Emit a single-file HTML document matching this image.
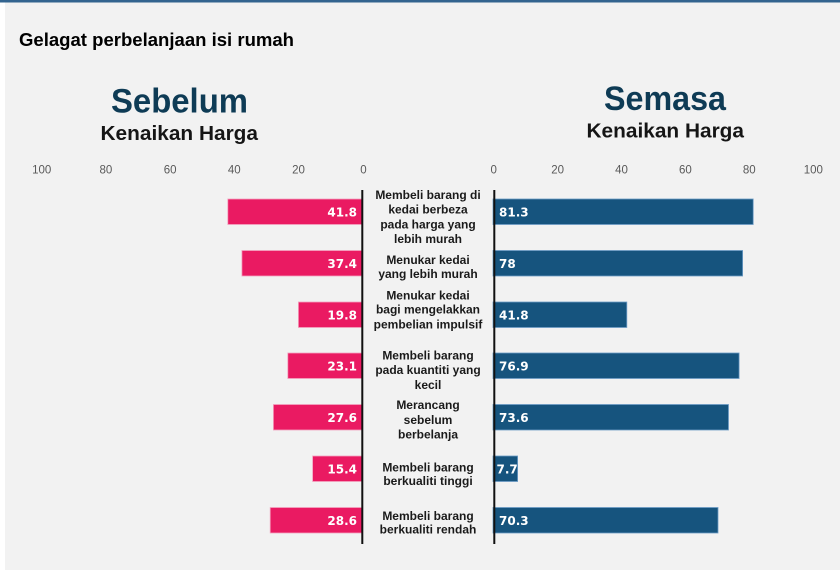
<!DOCTYPE html>
<html>
<head>
<meta charset="utf-8">
<style>
  html,body{margin:0;padding:0;background:#f2f2f2;}
  body{width:840px;height:570px;overflow:hidden;position:relative;}
  svg{display:block;}
</style>
</head>
<body>
<svg width="840" height="570" viewBox="0 0 840 570" xmlns="http://www.w3.org/2000/svg">
  <rect x="0" y="0" width="840" height="570" fill="#f2f2f2"/>
  <rect x="0" y="0" width="5" height="570" fill="#ffffff"/>
  <rect x="0" y="0" width="840" height="2.5" fill="#33648f"/>

  <!-- Title -->
  <text x="19" y="46" font-family="Liberation Sans, Arial, sans-serif" font-weight="bold" font-size="18" fill="#000" textLength="275" lengthAdjust="spacingAndGlyphs">Gelagat perbelanjaan isi rumah</text>

  <!-- Headers -->
  <text x="111" y="112.5" font-family="Liberation Sans, Arial, sans-serif" font-weight="bold" font-size="34" fill="#0e3b55" textLength="137" lengthAdjust="spacingAndGlyphs">Sebelum</text>
  <text x="100.5" y="140" font-family="Liberation Sans, Arial, sans-serif" font-weight="bold" font-size="20" fill="#151515" textLength="157.5" lengthAdjust="spacingAndGlyphs">Kenaikan Harga</text>
  <text x="604" y="110" font-family="Liberation Sans, Arial, sans-serif" font-weight="bold" font-size="34" fill="#0e3b55" textLength="122" lengthAdjust="spacingAndGlyphs">Semasa</text>
  <text x="586.5" y="137.3" font-family="Liberation Sans, Arial, sans-serif" font-weight="bold" font-size="20" fill="#151515" textLength="157.5" lengthAdjust="spacingAndGlyphs">Kenaikan Harga</text>

  <!-- Tick labels -->
  <g font-family="Liberation Sans, Arial, sans-serif" font-size="11.5" fill="#595959" text-anchor="middle">
    <text x="41.7" y="173.3">100</text>
    <text x="105.9" y="173.3">80</text>
    <text x="170.1" y="173.3">60</text>
    <text x="234.3" y="173.3">40</text>
    <text x="298.5" y="173.3">20</text>
    <text x="363.5" y="173.3">0</text>
    <text x="493.7" y="173.3">0</text>
    <text x="557.6" y="173.3">20</text>
    <text x="621.5" y="173.3">40</text>
    <text x="685.4" y="173.3">60</text>
    <text x="749.3" y="173.3">80</text>
    <text x="813.3" y="173.3">100</text>
  </g>

  <!-- Left (pink) bars -->
  <g fill="#ea1a62" stroke="#f3a3c0" stroke-width="0.8">
    <rect x="227.8" y="199" width="134.2" height="25.5"/>
    <rect x="241.9" y="250.5" width="120.1" height="25.5"/>
    <rect x="298.4" y="302" width="63.6" height="25.5"/>
    <rect x="287.8" y="353" width="74.2" height="25.5"/>
    <rect x="273.4" y="404.5" width="88.6" height="25.5"/>
    <rect x="312.6" y="456" width="49.4" height="25.5"/>
    <rect x="270.2" y="507.5" width="91.8" height="25.5"/>
  </g>

  <!-- Right (blue) bars -->
  <g fill="#16547e" stroke="#6d9cc6" stroke-width="0.8">
    <rect x="493" y="199" width="260.2" height="25.5"/>
    <rect x="493" y="250.5" width="249.6" height="25.5"/>
    <rect x="493" y="302" width="133.8" height="25.5"/>
    <rect x="493" y="353" width="246.1" height="25.5"/>
    <rect x="493" y="404.5" width="235.5" height="25.5"/>
    <rect x="493" y="456" width="24.6" height="25.5"/>
    <rect x="493" y="507.5" width="225" height="25.5"/>
  </g>

  <!-- Value labels -->
  <g font-family="DejaVu Sans, Liberation Sans, sans-serif" font-weight="bold" font-size="12" fill="#ffffff">
    <g text-anchor="end">
      <text x="357" y="216.5">41.8</text>
      <text x="357" y="268">37.4</text>
      <text x="357" y="319.5">19.8</text>
      <text x="357" y="370.5">23.1</text>
      <text x="357" y="422">27.6</text>
      <text x="357" y="473.5">15.4</text>
      <text x="357" y="525">28.6</text>
    </g>
    <text x="499" y="216.5">81.3</text>
    <text x="499" y="268">78</text>
    <text x="499" y="319.5">41.8</text>
    <text x="499" y="370.5">76.9</text>
    <text x="499" y="422">73.6</text>
    <text x="496.5" y="473.5">7.7</text>
    <text x="499" y="525">70.3</text>
  </g>

  <!-- Axis lines -->
  <rect x="361.3" y="190" width="2" height="354" fill="#111"/>
  <rect x="493.3" y="190" width="2" height="354" fill="#111"/>

  <!-- Category labels -->
  <g font-family="Liberation Sans, Arial, sans-serif" font-weight="bold" font-size="12" fill="#1a1a1a" text-anchor="middle">
    <text x="428" y="199">Membeli barang di</text>
    <text x="428" y="213.5">kedai berbeza</text>
    <text x="428" y="228.3">pada harga yang</text>
    <text x="428" y="243.2">lebih murah</text>

    <text x="428" y="264">Menukar kedai</text>
    <text x="428" y="278">yang lebih murah</text>

    <text x="428" y="299.5">Menukar kedai</text>
    <text x="428" y="313.5">bagi mengelakkan</text>
    <text x="428" y="328.5">pembelian impulsif</text>

    <text x="428" y="359.5">Membeli barang</text>
    <text x="428" y="374">pada kuantiti yang</text>
    <text x="428" y="389">kecil</text>

    <text x="428" y="409">Merancang</text>
    <text x="428" y="424">sebelum</text>
    <text x="428" y="438.5">berbelanja</text>

    <text x="428" y="471.3">Membeli barang</text>
    <text x="428" y="485">berkualiti tinggi</text>

    <text x="428" y="519.8">Membeli barang</text>
    <text x="428" y="533.3">berkualiti rendah</text>
  </g>
</svg>
</body>
</html>
